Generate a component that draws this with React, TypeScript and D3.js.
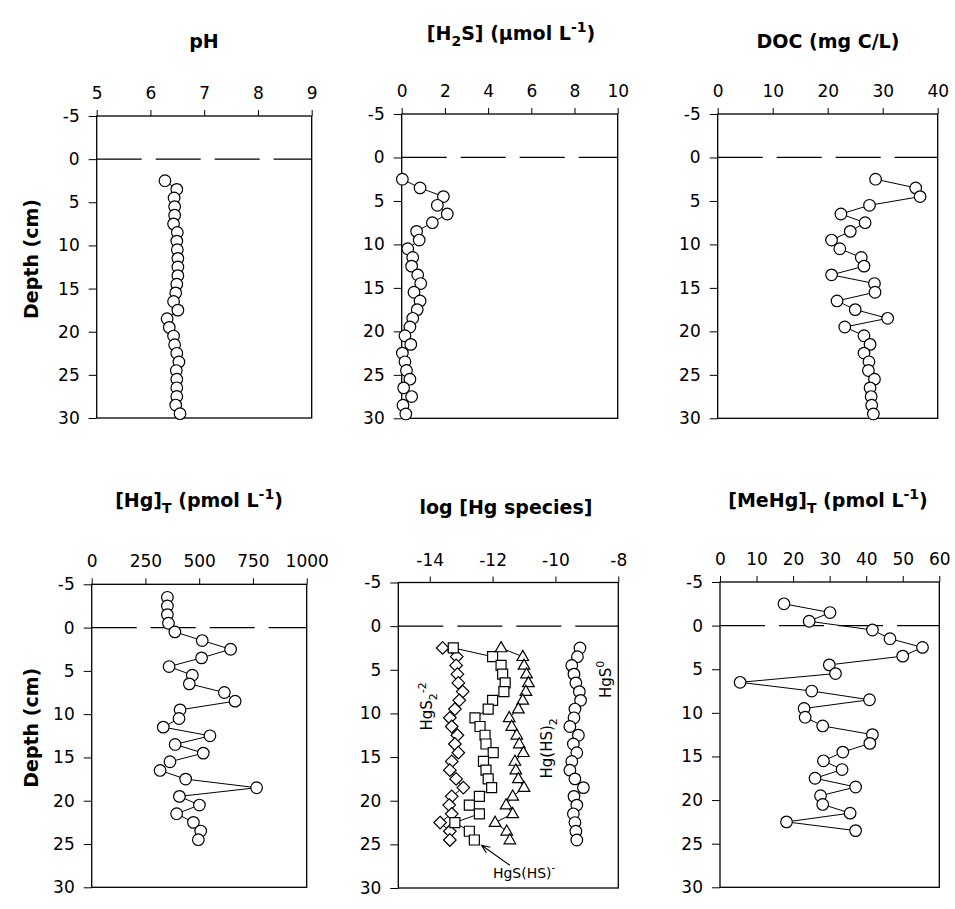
import * as d3 from 'd3';
import { useEffect, useRef } from 'react';

// depth (cm) of each sample
const coreDepth = [2.5, 3.5, 4.5, 5.5, 6.5, 7.5, 8.5, 9.5, 10.5, 11.5, 12.5, 13.5, 14.5, 15.5, 16.5, 17.5, 18.5, 19.5, 20.5, 21.5, 22.5, 23.5, 24.5, 25.5, 26.5, 27.5, 28.5, 29.5];
const hgDepth = [-3.5, -2.5, -1.5, -0.5, 0.5, 1.5, 2.5, 3.5, 4.5, 5.5, 6.5, 7.5, 8.5, 9.5, 10.5, 11.5, 12.5, 13.5, 14.5, 15.5, 16.5, 17.5, 18.5, 19.5, 20.5, 21.5, 22.5, 23.5, 24.5];
const speciesDepth = [2.5, 3.5, 4.5, 5.5, 6.5, 7.5, 8.5, 9.5, 10.5, 11.5, 12.5, 13.5, 14.5, 15.5, 16.5, 17.5, 18.5, 19.5, 20.5, 21.5, 22.5, 23.5, 24.5];
const mehgDepth = [-2.5, -1.5, -0.5, 0.5, 1.5, 2.5, 3.5, 4.5, 5.5, 6.5, 7.5, 8.5, 9.5, 10.5, 11.5, 12.5, 13.5, 14.5, 15.5, 16.5, 17.5, 18.5, 19.5, 20.5, 21.5, 22.5, 23.5];

const pH = [6.27, 6.49, 6.44, 6.45, 6.45, 6.43, 6.50, 6.49, 6.50, 6.51, 6.51, 6.51, 6.49, 6.47, 6.43, 6.51, 6.31, 6.35, 6.43, 6.45, 6.49, 6.53, 6.48, 6.49, 6.49, 6.49, 6.47, 6.55];
const h2s = [0.03, 0.85, 1.93, 1.65, 2.11, 1.42, 0.69, 0.81, 0.28, 0.51, 0.46, 0.74, 0.88, 0.57, 0.85, 0.72, 0.51, 0.38, 0.15, 0.42, 0.03, 0.15, 0.22, 0.38, 0.09, 0.46, 0.06, 0.19];
const doc = [28.7, 36.0, 36.8, 27.6, 22.4, 26.8, 24.1, 20.7, 22.2, 26.1, 26.6, 20.7, 28.5, 28.6, 21.7, 25.0, 30.9, 23.1, 26.6, 27.7, 26.6, 27.5, 27.4, 28.5, 27.7, 27.9, 28.0, 28.3];
const hgT = [352, 352, 352, 357, 387, 514, 646, 511, 360, 468, 454, 617, 667, 411, 406, 333, 550, 388, 519, 364, 318, 437, 767, 408, 501, 395, 473, 507, 496];
const hgS2 = [-13.59, -13.14, -13.16, -13.12, -13.09, -12.95, -13.06, -13.20, -13.36, -13.30, -13.12, -13.20, -13.09, -13.30, -13.36, -13.16, -12.93, -13.30, -13.38, -13.30, -13.67, -13.36, -13.36];
const hgSHS = [-13.25, -12.0, -11.73, -11.68, -11.60, -11.64, -12.0, -12.14, -12.56, -12.40, -12.24, -12.21, -11.98, -12.29, -12.21, -12.14, -12.03, -12.42, -12.74, -12.42, -13.20, -12.74, -12.58];
const hgHS2 = [-11.73, -11.04, -11.0, -10.92, -10.86, -10.94, -11.04, -11.18, -11.47, -11.39, -11.23, -11.15, -11.02, -11.29, -11.26, -11.18, -11.0, -11.36, -11.57, -11.36, -11.92, -11.55, -11.45];
const hgS0 = [-9.22, -9.30, -9.48, -9.41, -9.35, -9.24, -9.20, -9.38, -9.41, -9.54, -9.27, -9.43, -9.32, -9.48, -9.54, -9.38, -9.11, -9.41, -9.32, -9.43, -9.38, -9.35, -9.32];
const mehg = [17.5, 30.1, 24.4, 41.7, 46.5, 55.4, 50.0, 29.9, 31.6, 5.5, 25.1, 40.9, 23.0, 23.3, 28.1, 41.7, 41.0, 33.6, 28.3, 33.4, 26.0, 37.1, 27.5, 28.1, 35.6, 18.2, 37.1];

const depthTicks = [-5, 0, 5, 10, 15, 20, 25, 30];
const phTicks = [5, 6, 7, 8, 9];
const h2sTicks = [0, 2, 4, 6, 8, 10];
const docTicks = [0, 10, 20, 30, 40];
const hgTicks = [0, 250, 500, 750, 1000];
const speciesTicks = [-14, -12, -10, -8];
const mehgTicks = [0, 10, 20, 30, 40, 50, 60];

const FONT = '"DejaVu Sans", "Liberation Sans", Arial, sans-serif';

type Shape = 'circle' | 'square' | 'diamond' | 'triangle';
const shapePath: Record<Shape, string> = {
  circle: '',
  square: 'M-5,-5h10v10h-10Z',
  diamond: 'M0,-6.3L6.3,0L0,6.3L-6.3,0Z',
  triangle: 'M0,-6.3L5.8,3.8L-5.8,3.8Z',
};

interface Series { depth: number[]; values: number[]; shape: Shape }
interface Panel {
  x0: number; x1: number; y0: number; y1: number;
  domain: [number, number]; ticks: number[]; series: Series[];
}

const panels: Panel[] = [
  { x0: 96.7, x1: 311.7, y0: 116, y1: 418, domain: [5, 9], ticks: phTicks, series: [{ depth: coreDepth, values: pH, shape: 'circle' }] },
  { x0: 401.7, x1: 617.7, y0: 114, y1: 418.3, domain: [0, 10], ticks: h2sTicks, series: [{ depth: coreDepth, values: h2s, shape: 'circle' }] },
  { x0: 717.7, x1: 937.7, y0: 114, y1: 418.3, domain: [0, 40], ticks: docTicks, series: [{ depth: coreDepth, values: doc, shape: 'circle' }] },
  { x0: 91.7, x1: 306.7, y0: 584.3, y1: 887.3, domain: [0, 1000], ticks: hgTicks, series: [{ depth: hgDepth, values: hgT, shape: 'circle' }] },
  {
    x0: 398.3, x1: 618.3, y0: 582.5, y1: 888, domain: [-15, -8], ticks: speciesTicks, series: [
      { depth: speciesDepth, values: hgS2, shape: 'diamond' },
      { depth: speciesDepth, values: hgSHS, shape: 'square' },
      { depth: speciesDepth, values: hgHS2, shape: 'triangle' },
      { depth: speciesDepth, values: hgS0, shape: 'circle' },
    ],
  },
  { x0: 720, x1: 939.3, y0: 582, y1: 887.3, domain: [0, 60], ticks: mehgTicks, series: [{ depth: mehgDepth, values: mehg, shape: 'circle' }] },
];

function App() {
  const ref = useRef<SVGSVGElement>(null);

  useEffect(() => {
    const svg = d3.select(ref.current);
    svg.selectAll('*').remove();

    const scales = panels.map((p) => {
      const x = d3.scaleLinear().domain(p.domain).range([p.x0, p.x1]);
      const y = d3.scaleLinear().domain([-5, 30]).range([p.y0, p.y1]);
      const g = svg.append('g');

      // zero (sediment-water interface)
      g.append('line')
        .attr('x1', p.x0).attr('x2', p.x1)
        .attr('y1', y(0)).attr('y2', y(0))
        .attr('stroke', '#000').attr('stroke-width', 1.3)
        .attr('stroke-dasharray', '45,14');

      const ax = g.append('g')
        .attr('transform', `translate(0,${p.y0})`)
        .call(d3.axisTop(x).tickValues(p.ticks).tickSize(6).tickSizeOuter(0).tickPadding(11).tickFormat((d) => String(d)));
      ax.select('.domain').remove();
      ax.attr('font-family', FONT).attr('font-size', 17);

      const ay = g.append('g')
        .attr('transform', `translate(${p.x0},0)`)
        .call(d3.axisLeft(y).tickValues(depthTicks).tickSize(8).tickSizeOuter(0).tickPadding(9).tickFormat((d) => String(d)));
      ay.select('.domain').remove();
      ay.attr('font-family', FONT).attr('font-size', 17);

      g.append('rect')
        .attr('x', p.x0).attr('y', p.y0)
        .attr('width', p.x1 - p.x0).attr('height', p.y1 - p.y0)
        .attr('fill', 'none').attr('stroke', '#000').attr('stroke-width', 1.3);

      p.series.forEach((s) => {
        const pts = s.values.map((v, i) => [x(v), y(s.depth[i])] as [number, number]);
        g.append('path')
          .datum(pts)
          .attr('fill', 'none').attr('stroke', '#000').attr('stroke-width', 1)
          .attr('d', d3.line());
        pts.forEach(([px, py]) => {
          if (s.shape === 'circle') {
            g.append('circle').attr('cx', px).attr('cy', py).attr('r', 5.8)
              .attr('fill', '#fff').attr('stroke', '#000').attr('stroke-width', 1.2);
          } else {
            g.append('path').attr('d', shapePath[s.shape])
              .attr('transform', `translate(${px},${py})`)
              .attr('fill', '#fff').attr('stroke', '#000').attr('stroke-width', 1.2);
          }
        });
      });
      return { x, y };
    });

    // panel titles
    const title = (cx: number, by: number) => svg.append('text')
      .attr('x', cx).attr('y', by).attr('text-anchor', 'middle')
      .attr('font-family', FONT).attr('font-weight', 'bold').attr('font-size', 19);

    title(204, 48).text('pH');
    const t2 = title(511, 40);
    t2.append('tspan').text('[H');
    t2.append('tspan').attr('font-size', 14).attr('dy', 6).text('2');
    t2.append('tspan').attr('dy', -6).text('S] (μmol L');
    t2.append('tspan').attr('font-size', 14).attr('dy', -8).text('-1');
    t2.append('tspan').attr('dy', 8).text(')');
    title(828, 48).text('DOC (mg C/L)');

    const t4 = title(199, 507);
    t4.append('tspan').text('[Hg]');
    t4.append('tspan').attr('font-size', 14).attr('dy', 6).text('T');
    t4.append('tspan').attr('dy', -6).text(' (pmol L');
    t4.append('tspan').attr('font-size', 14).attr('dy', -8).text('-1');
    t4.append('tspan').attr('dy', 8).text(')');
    title(506, 514).text('log [Hg species]');
    const t6 = title(828, 507);
    t6.append('tspan').text('[MeHg]');
    t6.append('tspan').attr('font-size', 14).attr('dy', 6).text('T');
    t6.append('tspan').attr('dy', -6).text(' (pmol L');
    t6.append('tspan').attr('font-size', 14).attr('dy', -8).text('-1');
    t6.append('tspan').attr('dy', 8).text(')');

    // depth labels
    [panels[0], panels[3]].forEach((p) => {
      svg.append('text')
        .attr('transform', `translate(38,${(p.y0 + p.y1) / 2 - 8}) rotate(-90)`)
        .attr('text-anchor', 'middle')
        .attr('font-family', FONT).attr('font-weight', 'bold').attr('font-size', 19)
        .text('Depth (cm)');
    });

    // species annotations
    const { x, y } = scales[4];
    const rot = (vx: number, vy: number) => svg.append('text')
      .attr('transform', `translate(${x(vx)},${y(vy)}) rotate(-90)`)
      .attr('text-anchor', 'middle')
      .attr('font-family', FONT).attr('font-size', 15);

    const a1 = rot(-13.93, 9.2);
    a1.append('tspan').text('HgS');
    a1.append('tspan').attr('font-size', 11).attr('dy', 5).text('2');
    a1.append('tspan').attr('font-size', 11).attr('dy', -11).text('-2');

    const a2 = rot(-10.1, 14.0);
    a2.append('tspan').text('Hg(HS)');
    a2.append('tspan').attr('font-size', 11).attr('dy', 5).text('2');

    const a3 = rot(-8.22, 6.1);
    a3.append('tspan').text('HgS');
    a3.append('tspan').attr('font-size', 11).attr('dy', -7).text('0');

    const a4 = svg.append('text')
      .attr('x', x(-11.99)).attr('y', y(28.9))
      .attr('font-family', FONT).attr('font-size', 14);
    a4.append('tspan').text('HgS(HS)');
    a4.append('tspan').attr('font-size', 10).attr('dy', -7).text('-');

    const hx = x(-12.35), hy = y(25.1), tx = x(-11.45), ty = y(27.4);
    const ang = Math.atan2(ty - hy, tx - hx);
    const head = 9;
    const arrow = d3.path();
    arrow.moveTo(tx, ty);
    arrow.lineTo(hx, hy);
    arrow.moveTo(hx + head * Math.cos(ang + 0.4), hy + head * Math.sin(ang + 0.4));
    arrow.lineTo(hx, hy);
    arrow.lineTo(hx + head * Math.cos(ang - 0.4), hy + head * Math.sin(ang - 0.4));
    svg.append('path').attr('d', arrow.toString())
      .attr('fill', 'none').attr('stroke', '#000').attr('stroke-width', 1.1);
  }, []);

  return (
    <svg ref={ref} width={955} height={909}
      style={{ position: 'absolute', left: 0, top: 0, background: '#fff' }} />
  );
}

export default App;
